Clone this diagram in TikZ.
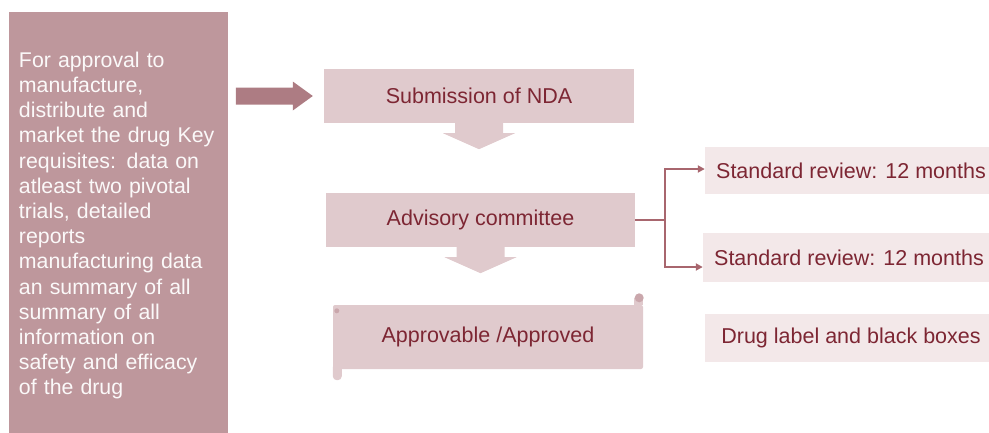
\documentclass[tikz,border=0pt]{standalone}
\usepackage{fontspec}
\setmainfont{Liberation Sans}
\usepackage{tikz}
\usetikzlibrary{calc,positioning,arrows.meta}
\definecolor{infofill}{HTML}{BE979C}
\definecolor{arrowfill}{HTML}{AD7C83}
\definecolor{stepfill}{HTML}{E0CACD}
\definecolor{sidefill}{HTML}{F3E8E9}
\definecolor{knobfill}{HTML}{CAA7AC}
\definecolor{textred}{HTML}{7D2633}
\definecolor{linkred}{HTML}{A8666E}
\tikzset{
  infobox/.style={fill=infofill, text=white!94!infofill, inner sep=0pt, text width=199pt, align=left,
    minimum width=219pt, minimum height=427pt, font=\fontsize{21.3}{25.2}\selectfont},
  stepbox/.style={fill=stepfill, text=textred, inner sep=0pt, font=\fontsize{21.5}{25}\selectfont},
  sidebox/.style={fill=sidefill, text=textred, inner sep=0pt, minimum width=292pt, font=\fontsize{21.5}{25}\selectfont},
  link/.style={draw=linkred, line width=1.8pt},
  chevron/.style={fill=stepfill}
}
\begin{document}
\begin{tikzpicture}[x=1pt,y=-1pt]
        \useasboundingbox (0,0) rectangle (989,432);
        % Draw the requisites box
        \node[infobox] (info) at (118.5,225.5) {For approval to\\manufacture,\\distribute and\\market the drug Key\\requisites: data on\\atleast two pivotal\\trials, detailed\\reports\\manufacturing data\\an summary of all\\summary of all\\information on\\safety and efficacy\\of the drug};
        % Draw the main steps
        \node[stepbox, minimum width=310pt, minimum height=54pt] (sub) at (479,96) {Submission of NDA};
        \node[stepbox, minimum width=309pt, minimum height=54pt] (adv) at (480.5,220) {Advisory committee};
        \node[stepbox, minimum width=310pt, minimum height=64pt, rounded corners=2pt] (appr) at (488,337) {Approvable /Approved};
        % Scroll ends of the last step
        \fill[stepfill, rounded corners=4pt] ($(appr.south west)+(0,-6)$) rectangle ($(appr.south west)+(9,11)$);
        \fill[stepfill] ($(appr.north east)+(-9,0)$) rectangle ($(appr.north east)+(0,-7)$);
        \fill[knobfill] ($(appr.north east)+(-4,-7)$) circle (4.5pt);
        \fill[knobfill] ($(appr.north west)+(4,6)$) circle (2.5pt);
        % Draw the review boxes
        \node[sidebox, minimum height=47pt] (std1) at (851,170.5) {Standard review: 12 months};
        \node[sidebox, minimum height=49pt] (std2) at (849,257.5) {Standard review: 12 months};
        \node[sidebox, minimum height=48pt] (label) at (851,338) {Drug label and black boxes};
        % Block arrows
        \fill[arrowfill] ($(sub.west)+(-88,-8.5)$) -- ++(57,0) -- ++(0,-6) -- ++(20,14.5) -- ++(-20,14.5) -- ++(0,-6) -- ++(-57,0) -- cycle;
        \fill[chevron] ($(sub.south)+(-24,0)$) -- ++(48,0) -- ++(0,10) -- ++(12,0) -- ++(-36,16) -- ++(-36,-16) -- ++(12,0) -- cycle;
        \fill[chevron] ($(adv.south)+(-24,0)$) -- ++(48,0) -- ++(0,10) -- ++(12,0) -- ++(-36,16) -- ++(-36,-16) -- ++(12,0) -- cycle;
        % Branch to the reviews
        \draw[link] (adv.east) -- ++(30,0) coordinate (fork);
        \draw[link, -{Triangle[length=7pt,width=7pt]}] (fork) |- ([yshift=1.5pt]std1.west);
        \draw[link, -{Triangle[length=7pt,width=7pt]}] (fork) |- ([yshift=-9.5pt]std2.west);
      \end{tikzpicture}
\end{document}
